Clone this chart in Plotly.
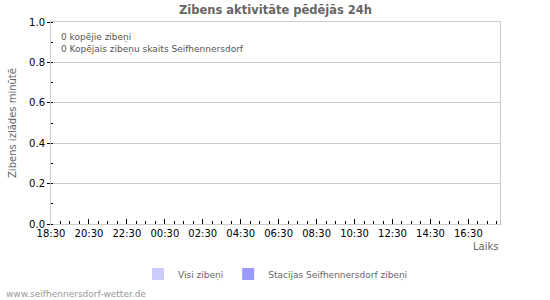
import plotly.graph_objects as go
import pandas as pd

# Data (all zero lightning in last 24h)
times = pd.date_range("2024-01-01 18:30", "2024-01-02 18:00", freq="30min")
all_strikes = [0] * len(times)
station_strikes = [0] * len(times)
total_all = 0
total_station = 0
series_names = ["Visi zibeņi", "Stacijas Seifhennersdorf zibeņi"]
series_colors = ["#ccccff", "#9999ff"]

FONT = "DejaVu Sans"
PW, PH = 449, 202

fig = go.Figure()
fig.add_trace(go.Bar(x=times, y=all_strikes, name=series_names[0],
                     marker_color=series_colors[0], marker_line_width=0))
fig.add_trace(go.Bar(x=times, y=station_strikes, name=series_names[1],
                     marker_color=series_colors[1], marker_line_width=0))

fig.update_layout(
    width=550, height=300,
    margin=dict(l=51, r=50, t=22, b=76, autoexpand=False),
    paper_bgcolor="white", plot_bgcolor="white",
    font=dict(family=FONT, size=10, color="#000"),
    title=dict(text="<b>Zibens aktivitāte pēdējās 24h</b>", x=0.5, xanchor="center",
               xref="paper", y=1 - 10 / 300, yref="container", yanchor="middle",
               font=dict(family=FONT, size=11.5, color="#666")),
    showlegend=True,
    legend=dict(orientation="h", x=0.5, xanchor="center", y=-(274 - 224) / PH, yanchor="middle",
                font=dict(family=FONT, size=9, color="#666"), itemwidth=30,
                traceorder="normal"),
    barmode="overlay",
    hovermode=False,
)

fig.update_xaxes(
    type="date", automargin=False,
    range=["2024-01-01 18:30", "2024-01-02 18:10"],
    tick0="2024-01-01 18:30", dtick=7200000, tickformat="%H:%M",
    ticks="inside", ticklen=5, tickcolor="#000", tickwidth=1,
    minor=dict(dtick=1800000, tick0="2024-01-01 18:30", ticks="inside", ticklen=3, tickcolor="#000"),
    showgrid=False, showline=True, linecolor="#ccc", mirror=True,
    tickfont=dict(family=FONT, size=10, color="#000"),
    fixedrange=True,
)
fig.update_yaxes(
    automargin=False,
    range=[0, 1], dtick=0.2, tickformat=".1f",
    ticks="outside", ticklen=3, tickcolor="#000", tickwidth=1,
    minor=dict(dtick=0.1, ticks="inside", ticklen=2, tickcolor="#000", showgrid=False),
    showgrid=True, gridcolor="#ccc", gridwidth=1,
    showline=True, linecolor="#ccc", mirror=True, zeroline=False,
    tickfont=dict(family=FONT, size=10, color="#000"),
    fixedrange=True,
)

fig.add_annotation(text="Zibens izlādes minūtē", xref="paper", yref="paper",
                   x=-(51 - 12) / PW, y=0.5, xanchor="center", yanchor="middle", textangle=-90,
                   showarrow=False, font=dict(family=FONT, size=10, color="#666"))

fig.add_annotation(text="Laiks", xref="paper", yref="paper", x=1, y=-(246 - 224) / PH,
                   xanchor="right", yanchor="middle", showarrow=False,
                   font=dict(family=FONT, size=10, color="#666"))

fig.add_annotation(text=f"{total_all} kopējie zibeņi<br>{total_station} Kopējais zibeņu skaits Seifhennersdorf",
                   xref="paper", yref="paper", x=8 / PW, y=1 - 8 / PH, xanchor="left", yanchor="top",
                   align="left", showarrow=False,
                   font=dict(family=FONT, size=9, color="#555"))

fig.add_annotation(text="www.seifhennersdorf-wetter.de", xref="paper", yref="paper",
                   x=-(51 - 4) / PW, y=-(294 - 224) / PH, xanchor="left", yanchor="middle",
                   showarrow=False, font=dict(family=FONT, size=9, color="#999"))

fig.write_html("out.html", config={"displayModeBar": False, "staticPlot": True},
               post_script="document.body.style.margin='0';")
